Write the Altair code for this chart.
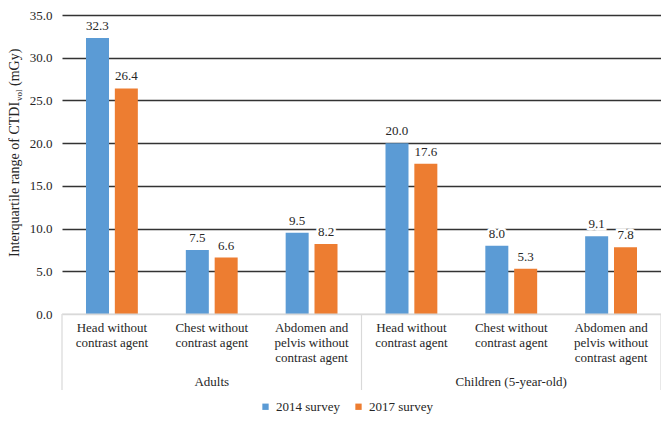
import altair as alt
import pandas as pd

# ---- data ----
groups = ["Adults", "Adults", "Adults",
          "Children (5-year-old)", "Children (5-year-old)", "Children (5-year-old)"]
procedures = ["Head without\ncontrast agent", "Chest without\ncontrast agent",
              "Abdomen and\npelvis without\ncontrast agent"] * 2
series = ["2014 survey", "2017 survey"]
v2014 = [32.3, 7.5, 9.5, 20.0, 8.0, 9.1]
v2017 = [26.4, 6.6, 8.2, 17.6, 5.3, 7.8]
y_ticks = [0, 5, 10, 15, 20, 25, 30, 35]
colors = ["#5B9BD5", "#ED7D31"]

keys = [f"{g}|{i}" for i, g in enumerate(groups)]

rows = []
for k, g, p, a, b in zip(keys, groups, procedures, v2014, v2017):
    rows.append({"key": k, "group": g, "proc": p, "series": series[0], "value": a})
    rows.append({"key": k, "group": g, "proc": p, "series": series[1], "value": b})
df = pd.DataFrame(rows)

cat_df = pd.DataFrame({"key": keys, "proc": procedures})
grp_names = ["Adults", "Children (5-year-old)"]
grp_df = pd.DataFrame({"key": [keys[1], keys[4]], "group": grp_names})

FONT = "'Liberation Serif', 'Times New Roman', 'DejaVu Serif', serif"
TXT = "#262626"
W, H = 599, 299

xscale = alt.Scale(domain=keys, paddingInner=0.48, paddingOuter=0.24)
X = alt.X("key:N", scale=xscale, axis=None)
XO = alt.XOffset("series:N", scale=alt.Scale(domain=series, paddingInner=0.2))
Y = alt.Y("value:Q", scale=alt.Scale(domain=[0, 35], nice=False),
          axis=alt.Axis(values=y_ticks, format=".1f", title=None, domain=False,
                        ticks=False, labelPadding=10, labelFont=FONT,
                        labelFontSize=13, labelColor=TXT,
                        gridColor={"condition": {"test": "datum.value === 0",
                                                 "value": "#d9d9d9"},
                                   "value": "#333333"},
                        gridWidth=1.3))

base = alt.Chart(df)

bars = base.mark_bar(size=23).encode(
    x=X, xOffset=XO, y=Y,
    color=alt.Color("series:N", scale=alt.Scale(domain=series, range=colors),
                    legend=alt.Legend(title=None, orient="none", direction="horizontal",
                                      legendX=197, legendY=385, symbolType="square",
                                      symbolSize=40, symbolStrokeWidth=0,
                                      labelFont=FONT, labelFontSize=13,
                                      labelColor=TXT, columnPadding=12,
                                      labelOffset=4)),
)

label_bg = base.mark_text(font=FONT, fontSize=13, baseline="alphabetic", dy=-8,
                          color="white", stroke="white", strokeWidth=5).encode(
    x=X, xOffset=XO, y="value:Q", text=alt.Text("value:Q", format=".1f"))
labels = base.mark_text(font=FONT, fontSize=13, baseline="alphabetic", dy=-8,
                        color=TXT).encode(
    x=X, xOffset=XO, y="value:Q", text=alt.Text("value:Q", format=".1f"))

baseline = alt.Chart(pd.DataFrame({"a": [0]})).mark_rule(color="#d9d9d9", strokeWidth=1.2).encode(
    x=alt.value(0), x2=alt.value(W), y=alt.value(H))

sep_df = pd.DataFrame({"px": [0, W / 2, W]})
seps = alt.Chart(sep_df).mark_rule(color="#d9d9d9", strokeWidth=1.2).encode(
    x=alt.X("px:Q", scale=None), y=alt.value(H), y2=alt.value(H + 76))

cat_labels = alt.Chart(cat_df).mark_text(font=FONT, fontSize=13, lineBreak="\n",
                                         baseline="top", lineHeight=15, color=TXT).encode(
    x=X, y=alt.value(H + 8), text="proc:N")

grp_labels = alt.Chart(grp_df).mark_text(font=FONT, fontSize=13, baseline="middle",
                                         color=TXT).encode(
    x=X, y=alt.value(H + 68), text="group:N")

# y-axis title with subscript (page positions converted to plot coords)
t_df = pd.DataFrame({"t": ["Interquartile range of CTDI"]})
t1 = alt.Chart(t_df).mark_text(font=FONT, fontSize=14, angle=270, align="left",
                               baseline="middle", color=TXT).encode(
    x=alt.value(-47), y=alt.value(242), text="t:N")
s_df = pd.DataFrame({"t": ["vol"]})
t2 = alt.Chart(s_df).mark_text(font=FONT, fontSize=9, angle=270, align="left",
                               baseline="middle", color=TXT).encode(
    x=alt.value(-43), y=alt.value(86), text="t:N")
m_df = pd.DataFrame({"t": ["(mGy)"]})
t3 = alt.Chart(m_df).mark_text(font=FONT, fontSize=14, angle=270, align="left",
                               baseline="middle", color=TXT).encode(
    x=alt.value(-47), y=alt.value(71), text="t:N")

chart = alt.layer(bars, baseline, seps, label_bg, labels, cat_labels, grp_labels,
                  t1, t2, t3).properties(
    width=W, height=H,
    padding={"left": 54, "top": 7, "right": 0, "bottom": 100},
    autosize=alt.AutoSizeParams(type="none"),
    background="white",
).configure_view(strokeWidth=0)

chart.save("out.html", embed_options={"renderer": "svg", "actions": False})
